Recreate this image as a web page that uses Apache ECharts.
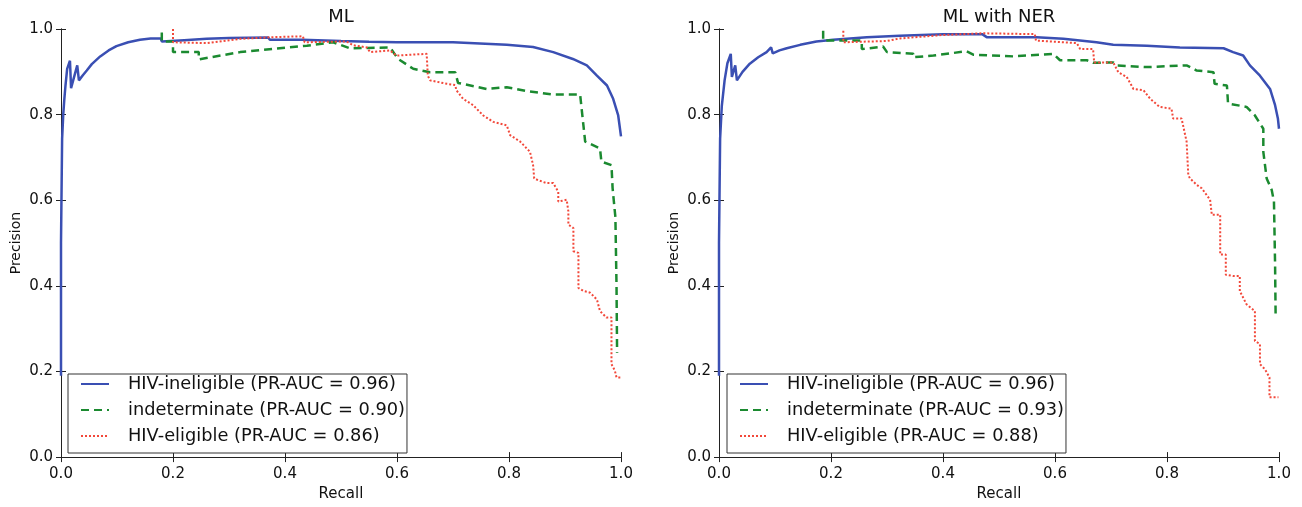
<!DOCTYPE html>
<html>
<head>
<meta charset="utf-8">
<script src="https://cdn.jsdelivr.net/npm/echarts@6/dist/echarts.min.js"></script>
<style>
html,body{margin:0;padding:0;background:#fff;}
#chart{width:1302px;height:507px;}
</style>
</head>
<body>
<div id="chart"></div>
<script>
// ---- data (recall, precision) ----
const titles = ['ML', 'ML with NER'];
const xTicks = ['0.0', '0.2', '0.4', '0.6', '0.8', '1.0'];
const yTicks = ['0.0', '0.2', '0.4', '0.6', '0.8', '1.0'];
const mlNames = ['HIV-ineligible (PR-AUC = 0.96)', 'indeterminate (PR-AUC = 0.90)', 'HIV-eligible (PR-AUC = 0.86)'];
const nerNames = ['HIV-ineligible (PR-AUC = 0.96)', 'indeterminate (PR-AUC = 0.93)', 'HIV-eligible (PR-AUC = 0.88)'];

const mlIneligible = [[0,0.19],[0,0.5],[0.002,0.744],[0.004,0.8],[0.006,0.837],[0.008,0.868],[0.011,0.907],[0.016,0.926],[0.018,0.862],[0.029,0.915],[0.032,0.880],[0.039,0.892],[0.046,0.903],[0.055,0.918],[0.07,0.936],[0.085,0.950],[0.099,0.960],[0.12,0.969],[0.141,0.975],[0.16,0.978],[0.178,0.978],[0.18,0.971],[0.22,0.974],[0.26,0.977],[0.30,0.979],[0.37,0.980],[0.373,0.975],[0.43,0.975],[0.432,0.971],[0.5,0.972],[0.55,0.970],[0.6,0.969],[0.7,0.969],[0.796,0.963],[0.843,0.958],[0.879,0.946],[0.914,0.930],[0.939,0.915],[0.957,0.891],[0.975,0.868],[0.986,0.837],[0.995,0.798],[1.0,0.749]];
const mlIndeterminate = [[0.18,0.992],[0.18,0.971],[0.2,0.971],[0.2,0.946],[0.246,0.946],[0.246,0.929],[0.32,0.946],[0.439,0.961],[0.486,0.969],[0.516,0.955],[0.5875,0.957],[0.602,0.93],[0.629,0.907],[0.659,0.899],[0.704,0.899],[0.709,0.874],[0.76,0.86],[0.796,0.864],[0.832,0.855],[0.879,0.847],[0.927,0.847],[0.936,0.737],[0.9625,0.721],[0.965,0.69],[0.983,0.682],[0.985,0.628],[0.99,0.56],[0.992,0.4],[0.993,0.244]];
const mlEligible = [[0.2,1.0],[0.2,0.969],[0.26,0.967],[0.32,0.977],[0.379,0.981],[0.432,0.983],[0.435,0.969],[0.51,0.971],[0.522,0.962],[0.546,0.957],[0.552,0.946],[0.5875,0.95],[0.599,0.938],[0.653,0.942],[0.655,0.891],[0.659,0.88],[0.689,0.872],[0.704,0.869],[0.706,0.857],[0.718,0.837],[0.736,0.822],[0.754,0.798],[0.772,0.783],[0.796,0.775],[0.802,0.752],[0.82,0.737],[0.8375,0.713],[0.843,0.682],[0.845,0.651],[0.852,0.647],[0.867,0.64],[0.879,0.64],[0.888,0.62],[0.888,0.597],[0.903,0.601],[0.906,0.574],[0.906,0.543],[0.915,0.535],[0.915,0.481],[0.924,0.477],[0.924,0.395],[0.933,0.388],[0.945,0.384],[0.957,0.368],[0.9625,0.341],[0.974,0.326],[0.983,0.326],[0.983,0.217],[0.989,0.202],[0.992,0.186],[0.999,0.186]];

const nerIneligible = [[0,0.19],[0,0.5],[0.002,0.744],[0.005,0.82],[0.01,0.88],[0.015,0.92],[0.021,0.942],[0.023,0.888],[0.029,0.915],[0.032,0.88],[0.042,0.900],[0.055,0.919],[0.07,0.934],[0.085,0.946],[0.093,0.957],[0.096,0.943],[0.108,0.950],[0.121,0.955],[0.145,0.963],[0.174,0.971],[0.204,0.975],[0.264,0.981],[0.323,0.984],[0.40,0.988],[0.47,0.988],[0.478,0.981],[0.567,0.981],[0.615,0.977],[0.674,0.969],[0.704,0.963],[0.764,0.961],[0.823,0.957],[0.901,0.955],[0.918,0.946],[0.936,0.938],[0.948,0.915],[0.966,0.891],[0.984,0.86],[0.993,0.822],[0.998,0.791],[1.0,0.767]];
const nerIndeterminate = [[0.186,0.996],[0.186,0.973],[0.255,0.973],[0.255,0.953],[0.293,0.959],[0.30,0.946],[0.347,0.942],[0.347,0.934],[0.383,0.938],[0.442,0.948],[0.454,0.94],[0.526,0.936],[0.597,0.942],[0.609,0.927],[0.657,0.927],[0.668,0.921],[0.704,0.922],[0.71,0.915],[0.764,0.911],[0.835,0.915],[0.853,0.903],[0.883,0.899],[0.885,0.872],[0.907,0.868],[0.909,0.826],[0.942,0.818],[0.957,0.798],[0.972,0.767],[0.972,0.713],[0.978,0.651],[0.987,0.624],[0.991,0.597],[0.993,0.45],[0.994,0.326]];
const nerEligible = [[0.222,0.996],[0.222,0.969],[0.3,0.972],[0.323,0.978],[0.40,0.986],[0.472,0.99],[0.564,0.988],[0.566,0.973],[0.639,0.967],[0.645,0.953],[0.668,0.953],[0.670,0.922],[0.704,0.922],[0.713,0.899],[0.728,0.888],[0.74,0.86],[0.758,0.857],[0.77,0.837],[0.787,0.818],[0.808,0.814],[0.811,0.791],[0.826,0.791],[0.835,0.737],[0.838,0.659],[0.841,0.651],[0.853,0.636],[0.862,0.628],[0.877,0.601],[0.880,0.566],[0.895,0.566],[0.895,0.473],[0.905,0.473],[0.905,0.426],[0.918,0.423],[0.93,0.423],[0.93,0.388],[0.942,0.357],[0.957,0.341],[0.957,0.271],[0.966,0.264],[0.966,0.217],[0.975,0.205],[0.983,0.186],[0.983,0.14],[0.999,0.14]];

// ---- styling ----
const FONT = 'DejaVu Sans';
const BLUE = '#3a4fb3', GREEN = '#1b8a30', RED = '#f2483a';
const AX = '#222';

function xAxisPair(gi) {
  const base = {gridIndex: gi, type: 'value', min: 0, max: 1, interval: 0.2,
    splitLine: {show: false}, axisLine: {show: true, lineStyle: {color: AX, width: 1}},
    axisTick: {show: true, inside: true, length: 5, lineStyle: {color: AX}}};
  return [
    Object.assign({}, base, {position: 'bottom', name: 'Recall', nameLocation: 'middle', nameGap: 29,
      nameTextStyle: {fontFamily: FONT, fontSize: 15, color: '#111'},
      axisLabel: {fontFamily: FONT, fontSize: 15, color: '#111', margin: 10,
        formatter: v => xTicks[Math.round(v / 0.2)]}}),
    Object.assign({}, base, {position: 'top', axisLabel: {show: false}})
  ];
}
function yAxisPair(gi) {
  const base = {gridIndex: gi, type: 'value', min: 0, max: 1, interval: 0.2,
    splitLine: {show: false}, axisLine: {show: true, lineStyle: {color: AX, width: 1}},
    axisTick: {show: true, inside: true, length: 5, lineStyle: {color: AX}}};
  return [
    Object.assign({}, base, {position: 'left', name: 'Precision', nameLocation: 'middle', nameGap: 38,
      nameTextStyle: {fontFamily: FONT, fontSize: 14, color: '#111'},
      axisLabel: {fontFamily: FONT, fontSize: 15, color: '#111', margin: 8,
        formatter: v => yTicks[Math.round(v / 0.2)]}}),
    Object.assign({}, base, {position: 'right', axisLabel: {show: false}})
  ];
}
function mkSeries(name, data, axIdx, style) {
  return {name, type: 'line', data, xAxisIndex: axIdx, yAxisIndex: axIdx,
    showSymbol: false, symbol: 'none', animation: false, silent: true,
    lineStyle: style, itemStyle: {color: style.color}};
}
const sBlue = {color: BLUE, width: 2.5, type: 'solid'};
const sGreen = {color: GREEN, width: 2.5, type: [8, 5]};
const sRed = {color: RED, width: 2, type: [2, 2]};

function mkLegend(left, names) {
  return {left, top: 374, orient: 'vertical', data: names,
    itemWidth: 28, itemHeight: 18, itemGap: 8,
    padding: [1, 2, 8, 12],
    itemStyle: {opacity: 0},
    borderColor: '#333', borderWidth: 1, borderRadius: 0, backgroundColor: '#fff',
    textStyle: {fontFamily: FONT, fontSize: 17.8, color: '#111', padding: [0, 0, 0, 14]}};
}

const option = {
  backgroundColor: '#fff',
  animation: false,
  title: [
    {text: titles[0], left: 336, top: 3, textAlign: 'center',
      textStyle: {fontFamily: FONT, fontSize: 18, fontWeight: 'normal', color: '#111'}},
    {text: titles[1], left: 994, top: 3, textAlign: 'center',
      textStyle: {fontFamily: FONT, fontSize: 18, fontWeight: 'normal', color: '#111'}}
  ],
  grid: [
    {left: 61, top: 29, width: 560, height: 432},
    {left: 719, top: 29, width: 560, height: 432}
  ],
  xAxis: [...xAxisPair(0), ...xAxisPair(1)],
  yAxis: [...yAxisPair(0), ...yAxisPair(1)],
  legend: [mkLegend(68, mlNames), mkLegend(727, nerNames)],
  series: [
    mkSeries(mlNames[0], mlIneligible, 0, sBlue),
    mkSeries(mlNames[1], mlIndeterminate, 0, sGreen),
    mkSeries(mlNames[2], mlEligible, 0, sRed),
    mkSeries(nerNames[0] + ' ', nerIneligible, 2, sBlue),
    mkSeries(nerNames[1], nerIndeterminate, 2, sGreen),
    mkSeries(nerNames[2], nerEligible, 2, sRed)
  ]
};
option.legend[1].data = [nerNames[0] + ' ', nerNames[1], nerNames[2]];
option.legend[1].formatter = n => n.trim();

const chart = echarts.init(document.getElementById('chart'), null, {renderer: 'canvas'});
chart.setOption(option);
</script>
</body>
</html>
